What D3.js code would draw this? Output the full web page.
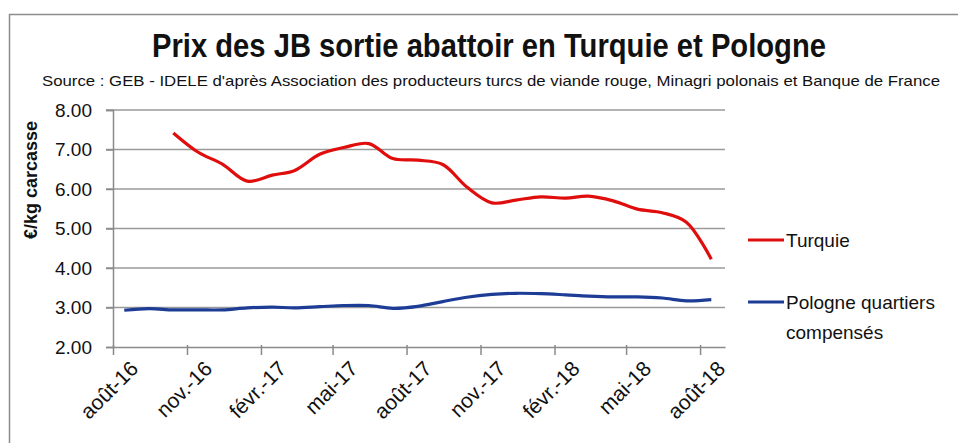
<!DOCTYPE html>
<meta charset="utf-8">
<style>
body { margin: 0; background: #fff; }
svg text { font-family: "Liberation Sans", Arial, sans-serif; fill: #111; }
.grid line { stroke: #9a9a9a; stroke-width: 1.5px; }
.axis path, .axis line { stroke: #8a8a8a; stroke-width: 1.5px; }
</style>
<svg width="958" height="443" id="chart"></svg>
<script src="https://d3js.org/d3.v7.min.js"></script>
<script>

// monthly prices, €/kg carcasse
var months = ["2016-08","2016-09","2016-10","2016-11","2016-12","2017-01","2017-02",
              "2017-03","2017-04","2017-05","2017-06","2017-07","2017-08","2017-09",
              "2017-10","2017-11","2017-12","2018-01","2018-02","2018-03","2018-04",
              "2018-05","2018-06","2018-07","2018-08"];
var turquie = [null, null, 7.42, 6.93, 6.63, 6.20, 6.35, 6.47, 6.88, 7.05, 7.15, 6.77,
               6.73, 6.62, 6.05, 5.65, 5.72, 5.80, 5.77, 5.82, 5.70, 5.49, 5.40, 5.16, 4.22];
var pologne = [2.93, 2.97, 2.94, 2.94, 2.94, 2.99, 3.01, 2.99, 3.02, 3.05, 3.05, 2.98,
               3.03, 3.15, 3.26, 3.33, 3.36, 3.35, 3.32, 3.29, 3.27, 3.27, 3.24, 3.17, 3.20];
var yTicks = [2, 3, 4, 5, 6, 7, 8];
var xTickLabels = ["août-16","nov.-16","févr.-17","mai-17","août-17","nov.-17","févr.-18","mai-18","août-18"];
var series = [
  { name: "Turquie", values: turquie, color: "#e00d0d" },
  { name: "Pologne quartiers compensés", values: pologne, color: "#1d3c96" }
];

var svg = d3.select("#chart");
var parseMonth = d3.timeParse("%Y-%m");

var x = d3.scaleTime()
    .domain([parseMonth("2016-08"), parseMonth("2018-09")])
    .range([113, 725]);
var y = d3.scaleLinear().domain([2, 8]).range([347, 110]);

// outer frame
svg.append("rect")
    .attr("x", 9.5).attr("y", 14.5)
    .attr("width", 970).attr("height", 440)
    .attr("fill", "none").attr("stroke", "#8c8c8c").attr("stroke-width", 1.5);

svg.append("text")
    .attr("x", 489).attr("y", 57)
    .attr("text-anchor", "middle")
    .attr("font-size", 33).attr("font-weight", "bold")
    .attr("textLength", 674).attr("lengthAdjust", "spacingAndGlyphs")
    .text("Prix des JB sortie abattoir en Turquie et Pologne");

svg.append("text")
    .attr("x", 491).attr("y", 86)
    .attr("text-anchor", "middle")
    .attr("font-size", 15)
    .attr("textLength", 898).attr("lengthAdjust", "spacingAndGlyphs")
    .text("Source : GEB - IDELE d'après Association des producteurs turcs de viande rouge, Minagri polonais et Banque de France");

// horizontal gridlines
svg.append("g").attr("class", "grid")
  .selectAll("line")
  .data(yTicks.filter(function(d) { return d > 2; }))
  .enter().append("line")
    .attr("x1", 106).attr("x2", 725)
    .attr("y1", function(d) { return y(d); })
    .attr("y2", function(d) { return y(d); });

var yAxis = svg.append("g")
    .attr("class", "axis")
    .attr("transform", "translate(113,0)")
    .call(d3.axisLeft(y).tickValues(yTicks).tickSize(7).tickPadding(14)
      .tickFormat(d3.format(".2f")));
yAxis.selectAll("text")
    .attr("font-size", 19).style("font-family", "'Liberation Sans', Arial, sans-serif")
    .attr("fill", "#111");

var xTicks = d3.range(xTickLabels.length).map(function(i) {
  return d3.timeMonth.offset(parseMonth("2016-08"), i * 3);
});
var xAxis = svg.append("g")
    .attr("class", "axis")
    .attr("transform", "translate(0,347)")
    .call(d3.axisBottom(x).tickValues(xTicks).tickSizeInner(8).tickSizeOuter(0)
      .tickFormat(function(d, i) { return xTickLabels[i]; }));
xAxis.selectAll(".tick line").attr("y1", -2);
xAxis.selectAll("text")
    .attr("font-size", 21).style("font-family", "'Liberation Sans', Arial, sans-serif")
    .attr("fill", "#111")
    .attr("text-anchor", "end")
    .attr("dy", "0.35em")
    .attr("transform", "translate(13,10) rotate(-45)");

svg.append("text")
    .attr("transform", "translate(37,180) rotate(-90)")
    .attr("text-anchor", "middle")
    .attr("font-size", 18).attr("font-weight", "bold")
    .text("€/kg carcasse");

var line = d3.line()
    .defined(function(d) { return d.v != null; })
    .x(function(d) { return x(d3.timeDay.offset(parseMonth(d.m), 14)); })
    .y(function(d) { return y(d.v); })
    .curve(d3.curveCatmullRom.alpha(0.5));

series.forEach(function(s) {
  var pts = months.map(function(m, i) { return { m: m, v: s.values[i] }; });
  svg.append("path")
      .attr("d", line(pts))
      .attr("fill", "none")
      .attr("stroke", s.color)
      .attr("stroke-width", 3.2)
      .attr("stroke-linejoin", "round");
});

// legend
var legend = [
  { s: series[0], y: 240, lines: ["Turquie"] },
  { s: series[1], y: 302, lines: ["Pologne quartiers", "compensés"] }
];
legend.forEach(function(l) {
  svg.append("line")
      .attr("x1", 748).attr("x2", 784)
      .attr("y1", l.y).attr("y2", l.y)
      .attr("stroke", l.s.color).attr("stroke-width", 3.2);
  var t = svg.append("text")
      .attr("x", 786).attr("y", l.y + 7)
      .attr("font-size", 19);
  l.lines.forEach(function(txt, i) {
    t.append("tspan").attr("x", 786).attr("dy", i ? 30 : 0).text(txt);
  });
});

</script>
